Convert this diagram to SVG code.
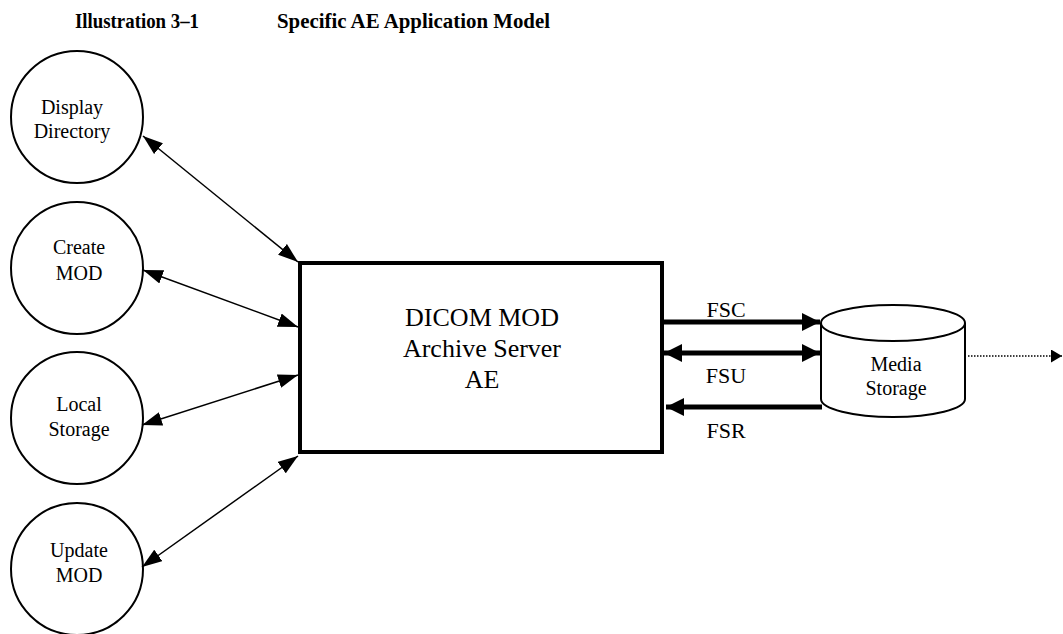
<svg xmlns="http://www.w3.org/2000/svg" width="1063" height="634" viewBox="0 0 1063 634">
<style>
.t{font-family:"Liberation Serif","Times New Roman",serif;fill:#000;text-anchor:middle}
.title{font-family:"Liberation Serif","Times New Roman",serif;font-weight:bold;font-size:21px;fill:#000}
.node{fill:#fff;stroke:#000;stroke-width:2}
.thin{stroke:#000;stroke-width:1.5;fill:none}
.thick{stroke:#000;stroke-width:5;fill:none}
.dot{stroke:#000;stroke-width:1.3;stroke-dasharray:1.5 1.5;fill:none}
</style>
<defs>
<marker id="ah" viewBox="0 0 20 14" refX="20" refY="7" markerWidth="20" markerHeight="14" markerUnits="userSpaceOnUse" orient="auto-start-reverse"><path d="M0,0 L20,7 L0,14 z" fill="#000"/></marker>
<marker id="ahb" viewBox="0 0 18 18" refX="18" refY="9" markerWidth="18" markerHeight="18" markerUnits="userSpaceOnUse" orient="auto-start-reverse"><path d="M0,0 L18,9 L0,18 z" fill="#000"/></marker>
<marker id="ahs" viewBox="0 0 11 13" refX="11" refY="6.5" markerWidth="11" markerHeight="13" markerUnits="userSpaceOnUse" orient="auto"><path d="M0,0 L11,6.5 L0,13 z" fill="#000"/></marker>
</defs>
<rect width="1063" height="634" fill="#fff"/>
<text class="title" x="75" y="28" textLength="124" lengthAdjust="spacingAndGlyphs">Illustration 3–1</text>
<text class="title" x="277" y="28" textLength="273" lengthAdjust="spacingAndGlyphs">Specific AE Application Model</text>

<g id="display-directory">
<circle class="node" cx="77" cy="117" r="66"/>
<text class="t" font-size="20" x="72" y="114">Display</text>
<text class="t" font-size="20" x="72" y="138">Directory</text>
</g>
<g id="create-mod">
<circle class="node" cx="77" cy="268" r="66"/>
<text class="t" font-size="20" x="79" y="254">Create</text>
<text class="t" font-size="20" x="79" y="280">MOD</text>
</g>
<g id="local-storage">
<circle class="node" cx="77" cy="418" r="66"/>
<text class="t" font-size="20" x="79" y="411">Local</text>
<text class="t" font-size="20" x="79" y="436">Storage</text>
</g>
<g id="update-mod">
<circle class="node" cx="77" cy="569" r="66"/>
<text class="t" font-size="20" x="79" y="557">Update</text>
<text class="t" font-size="20" x="79" y="582">MOD</text>
</g>
<g id="archive-server">
<rect x="300" y="263" width="362" height="189" fill="#fff" stroke="#000" stroke-width="4"/>
<text class="t" font-size="26" x="482" y="326">DICOM MOD</text>
<text class="t" font-size="26" x="482" y="357">Archive Server</text>
<text class="t" font-size="26" x="482" y="388">AE</text>
</g>
<g id="media-storage">
<path d="M821,323 L821,399 A72,18 0 0 0 965,399 L965,323" fill="#fff" stroke="#000" stroke-width="2"/>
<ellipse cx="893" cy="323" rx="72" ry="18" fill="#fff" stroke="#000" stroke-width="2"/>
<text class="t" font-size="20" x="896" y="371">Media</text>
<text class="t" font-size="20" x="896" y="395">Storage</text>
</g>
<g id="connectors">
<line class="thin" x1="143" y1="136" x2="298" y2="262" marker-start="url(#ah)" marker-end="url(#ah)"/>
<line class="thin" x1="143" y1="270" x2="298" y2="327" marker-start="url(#ah)" marker-end="url(#ah)"/>
<line class="thin" x1="142" y1="425" x2="298" y2="375" marker-start="url(#ah)" marker-end="url(#ah)"/>
<line class="thin" x1="142" y1="567" x2="298" y2="456" marker-start="url(#ah)" marker-end="url(#ah)"/>
<line class="thick" x1="662" y1="322" x2="820" y2="322" marker-end="url(#ahb)"/>
<line class="thick" x1="664" y1="353" x2="820" y2="353" marker-start="url(#ahb)" marker-end="url(#ahb)"/>
<line class="thick" x1="822" y1="407" x2="666" y2="407" marker-end="url(#ahb)"/>
<line class="dot" x1="968" y1="356" x2="1062" y2="356" marker-end="url(#ahs)"/>
<text class="t" font-size="22" x="726" y="317">FSC</text>
<text class="t" font-size="22" x="726" y="383">FSU</text>
<text class="t" font-size="22" x="726" y="438">FSR</text>
</g>
</svg>
